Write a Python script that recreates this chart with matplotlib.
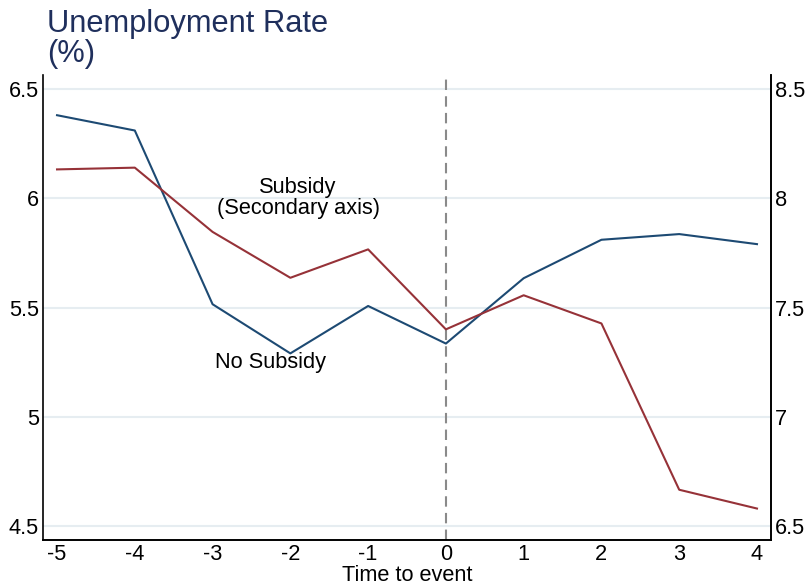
import matplotlib
matplotlib.use("Agg")
import matplotlib.pyplot as plt

plt.rcParams['font.family'] = ['Liberation Sans', 'DejaVu Sans']

# dados
tempo = [-5, -4, -3, -2, -1, 0, 1, 2, 3, 4]
sem_subsidio = [6.38, 6.31, 5.515, 5.29, 5.507, 5.335, 5.634, 5.81, 5.836, 5.79]
com_subsidio = [8.132, 8.14, 7.846, 7.636, 7.766, 7.40, 7.556, 7.427, 6.666, 6.58]

yticks_esq = [4.5, 5, 5.5, 6, 6.5]
yticks_dir = [6.5, 7, 7.5, 8, 8.5]

azul = '#1d4a73'
vermelho = '#963238'
tam = 15.7

fig = plt.figure(figsize=(8.09, 5.86), dpi=100)
ax1 = fig.add_axes([0.0532, 0.0785, 0.8998, 0.7935])
ax2 = ax1.twinx()

ax1.plot(tempo, sem_subsidio, color=azul, lw=1.5, zorder=3)
ax2.plot(tempo, com_subsidio, color=vermelho, lw=1.5, zorder=3)
ax1.axvline(0, color='#8a8a8a', lw=1.5, ls=(0, (5, 3)), zorder=2)

ax1.set_xlim(-5.18, 4.18)
ax1.set_ylim(4.436, 6.564)
ax2.set_ylim(6.436, 8.564)

ax1.set_xticks(tempo)
ax1.set_xticklabels([str(t) for t in tempo])
ax1.set_yticks(yticks_esq)
ax1.set_yticklabels(['4.5', '5', '5.5', '6', '6.5'])
ax2.set_yticks(yticks_dir)
ax2.set_yticklabels(['6.5', '7', '7.5', '8', '8.5'])

for y in yticks_esq:
    ax1.axhline(y, color='#e6edf1', lw=1.5, zorder=1)

for ax in (ax1, ax2):
    ax.tick_params(length=0, labelsize=tam, pad=3)
    ax.spines['top'].set_visible(False)
    for s in ('left', 'right', 'bottom'):
        ax.spines[s].set_linewidth(1.2)
ax1.tick_params(axis='x', pad=3)
ax2.spines['left'].set_visible(False)

ax1.set_xlabel('Time to event', fontsize=tam, labelpad=0)

ax1.text(-1.9, 6.0, 'Subsidy\n(Secondary axis)', ha='center', va='center',
         fontsize=tam, linespacing=1.0)
ax1.text(-2.25, 5.25, 'No Subsidy', ha='center', va='center', fontsize=tam)

fig.text(0.058, 1 - 9 / 586, 'Unemployment Rate\n(%)', ha='left', va='top',
         fontsize=22.2, color='#1f2f5c', linespacing=0.98)

fig.savefig('out.png', dpi=100)
